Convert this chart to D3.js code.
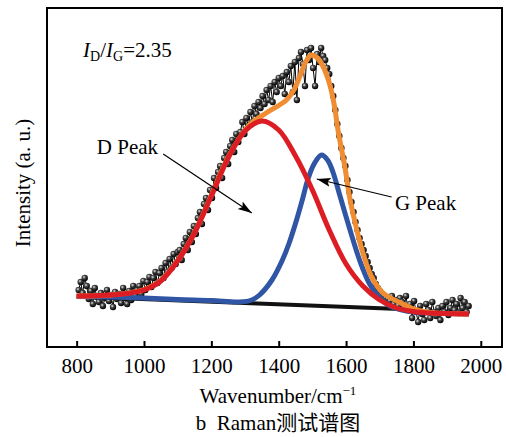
<!DOCTYPE html>
<html>
<head>
<meta charset="utf-8">
<script src="https://cdn.jsdelivr.net/npm/d3@7"></script>
<style>
  body { margin: 0; background: #fff; }
  svg text { font-family: "Liberation Serif", "Noto Sans CJK SC", serif; fill: #000; }
</style>
</head>
<body>
<div id="chart"></div>
<script>
const width = 506;
const height = 437;

// x ticks
const wavenumberTicks = [800, 1000, 1200, 1400, 1600, 1800, 2000];

// measured spectrum, one point every 6 cm-1 from 806
const rawStart = 806;
const rawStep = 6;
const rawIntensity = [
  58, 66, 55, 70, 62, 49, 57, 44, 60, 51,
  46, 55, 42, 50, 58, 47, 53, 41, 56, 49,
  54, 45, 60, 50, 44, 57, 48, 62, 52, 58,
  62, 54, 67, 58, 66, 71, 61, 70, 76, 65,
  75, 80, 70, 85, 76, 89, 80, 94, 84, 96,
  98, 88, 104, 110, 98, 116, 106, 122, 114, 130,
  136, 124, 144, 150, 138, 158, 150, 170, 160, 176,
  182, 170, 190, 196, 184, 202, 208, 196, 214, 206,
  216, 226, 214, 230, 222, 236, 226, 242, 234, 246,
  240, 252, 244, 258, 248, 262, 246, 266, 256, 270,
  262, 272, 254, 276, 266, 282, 256, 286, 248, 290,
  296, 284, 262, 298, 288, 300, 280, 262, 294, 286,
  300, 292, 288, 280, 274, 262, 252, 238, 224, 212,
  200, 190, 182, 168, 156, 146, 136, 126, 118, 110,
  104, 98, 92, 86, 80, 74, 70, 64, 60, 57,
  54, 52, 50, 49, 47, 52, 44, 48, 42, 50,
  46, 40, 52, 38, 44, 30, 47, 36, 26, 42,
  34, 28, 44, 38, 30, 46, 36, 32, 40, 28,
  42, 36, 46, 33, 40, 48, 38, 44, 35, 50,
  40, 46, 36, 42
];

// fitted curves [wavenumber, intensity]
const baseline = [[800, 51.5], [1760, 39]];

const dPeak = [
  [800, 52], [850, 52.3], [900, 53], [950, 54.5], [1000, 58], [1050, 67],
  [1100, 87], [1150, 115], [1200, 152], [1250, 190], [1300, 217], [1350, 227],
  [1400, 218], [1450, 192], [1500, 158], [1550, 118], [1600, 84], [1650, 62],
  [1700, 48], [1750, 40], [1800, 36.5], [1850, 35], [1900, 34.5], [1965, 34]
];

const gPeak = [
  [800, 51.5], [900, 51], [1000, 50], [1100, 48.5], [1200, 47.5], [1284, 46],
  [1320, 48], [1343, 53], [1380, 68], [1411, 88], [1430, 104], [1453, 128],
  [1470, 148], [1486, 168], [1505, 184], [1527, 193], [1545, 188], [1561, 176],
  [1582, 152], [1610, 120], [1640, 88], [1670, 64], [1700, 50], [1730, 42],
  [1760, 38.5], [1800, 36], [1850, 35], [1900, 34.5], [1965, 34]
];

const fitSum = [
  [800, 52], [900, 53], [1000, 58.5], [1050, 67.5], [1100, 87.5], [1150, 115.5],
  [1200, 153], [1250, 191], [1313, 223], [1363, 235], [1423, 248], [1445, 258],
  [1462, 271], [1480, 286], [1497, 293], [1515, 290], [1531, 282], [1552, 263],
  [1566, 241], [1576, 218], [1597, 180], [1611, 150], [1632, 118], [1650, 95],
  [1676, 71], [1710, 55], [1769, 44], [1810, 38], [1850, 35.5], [1900, 34.5], [1965, 34]
];

// annotation anchors in data units
const dArrow = [[1057, 194], [1320, 135]];
const gArrow = [[1735, 151], [1513, 169]];

const margin = { left: 47, right: 4, top: 8, bottom: 90 };
const fontSize = 21;

const x = d3.scaleLinear()
  .domain([712, 2063])
  .range([margin.left, width - margin.right]);

const y = d3.scaleLinear()
  .domain([1, 340])
  .range([height - margin.bottom, margin.top]);

const svg = d3.select("#chart")
  .append("svg")
  .attr("width", width)
  .attr("height", height);

const defs = svg.append("defs");

const grad = defs.append("radialGradient")
  .attr("id", "ball")
  .attr("cx", "38%").attr("cy", "35%").attr("r", "65%");
grad.append("stop").attr("offset", "0%").attr("stop-color", "#e8e8e8");
grad.append("stop").attr("offset", "40%").attr("stop-color", "#444");
grad.append("stop").attr("offset", "100%").attr("stop-color", "#000");

defs.append("marker")
  .attr("id", "arrow")
  .attr("viewBox", "0 0 14 10")
  .attr("refX", 14).attr("refY", 5)
  .attr("markerWidth", 14).attr("markerHeight", 10)
  .attr("markerUnits", "userSpaceOnUse")
  .attr("orient", "auto")
  .append("path")
  .attr("d", "M0,0.5 L14,5 L0,9.5 L3,5 Z")
  .attr("fill", "#000");

// measured points
const raw = rawIntensity.map((v, i) => [rawStart + i * rawStep, v]);

const line = d3.line()
  .x(d => x(d[0]))
  .y(d => y(d[1]));

const smooth = d3.line()
  .x(d => x(d[0]))
  .y(d => y(d[1]))
  .curve(d3.curveCatmullRom.alpha(0.5));

svg.append("path")
  .datum(raw)
  .attr("d", line)
  .attr("fill", "none")
  .attr("stroke", "#000")
  .attr("stroke-width", 1);

svg.append("g")
  .selectAll("circle")
  .data(raw)
  .join("circle")
  .attr("cx", d => x(d[0]))
  .attr("cy", d => y(d[1]))
  .attr("r", 3.2)
  .attr("fill", "url(#ball)");

// fits
svg.append("path")
  .datum(baseline)
  .attr("d", line)
  .attr("fill", "none")
  .attr("stroke", "#111")
  .attr("stroke-width", 4);

svg.append("path")
  .datum(gPeak)
  .attr("d", smooth)
  .attr("fill", "none")
  .attr("stroke", "#2f55a4")
  .attr("stroke-width", 5);

svg.append("path")
  .datum(fitSum)
  .attr("d", smooth)
  .attr("fill", "none")
  .attr("stroke", "#f08c32")
  .attr("stroke-width", 5);

svg.append("path")
  .datum(dPeak)
  .attr("d", smooth)
  .attr("fill", "none")
  .attr("stroke", "#dc1e24")
  .attr("stroke-width", 5);

// frame
svg.append("rect")
  .attr("x", margin.left)
  .attr("y", margin.top)
  .attr("width", width - margin.left - margin.right)
  .attr("height", height - margin.top - margin.bottom)
  .attr("fill", "none")
  .attr("stroke", "#000")
  .attr("stroke-width", 2);

// x axis, ticks pointing in
const xAxis = svg.append("g")
  .attr("transform", `translate(0,${height - margin.bottom})`)
  .call(d3.axisBottom(x)
    .tickValues(wavenumberTicks)
    .tickSizeInner(-6)
    .tickSizeOuter(0)
    .tickPadding(11)
    .tickFormat(d3.format("d")));
xAxis.select(".domain").remove();
xAxis.selectAll(".tick line").attr("stroke-width", 2);
xAxis.selectAll("text")
  .attr("font-size", fontSize)
  .attr("fill", "#000");

// axis titles
const xTitle = svg.append("text")
  .attr("x", 278)
  .attr("y", 402.5)
  .attr("text-anchor", "middle")
  .attr("font-size", fontSize);
xTitle.append("tspan").text("Wavenumber/cm");
xTitle.append("tspan").attr("dy", -8).attr("font-size", 13).text("\u22121");

svg.append("text")
  .attr("transform", "translate(29.5,183) rotate(-90)")
  .attr("text-anchor", "middle")
  .attr("font-size", fontSize)
  .text("Intensity (a. u.)");

svg.append("text")
  .attr("x", 278)
  .attr("y", 430)
  .attr("text-anchor", "middle")
  .attr("font-size", fontSize)
  .attr("xml:space", "preserve")
  .text("b  Raman\u6d4b\u8bd5\u8c31\u56fe");

// ratio label
const ratio = svg.append("text")
  .attr("x", x(819))
  .attr("y", y(291))
  .attr("font-size", fontSize);
ratio.append("tspan").attr("font-style", "italic").text("I");
ratio.append("tspan").attr("font-size", 14).attr("dy", 4).text("D");
ratio.append("tspan").attr("dy", -4).text("/");
ratio.append("tspan").attr("font-style", "italic").text("I");
ratio.append("tspan").attr("font-size", 14).attr("dy", 4).text("G");
ratio.append("tspan").attr("dy", -4).text("=2.35");

// peak labels and arrows
svg.append("text")
  .attr("x", x(860))
  .attr("y", y(194))
  .attr("font-size", fontSize)
  .text("D Peak");

svg.append("text")
  .attr("x", x(1745))
  .attr("y", y(138))
  .attr("font-size", fontSize)
  .text("G Peak");

[dArrow, gArrow].forEach(a => {
  svg.append("path")
    .datum(a)
    .attr("d", line)
    .attr("stroke", "#000")
    .attr("stroke-width", 1.2)
    .attr("fill", "none")
    .attr("marker-end", "url(#arrow)");
});
</script>
</body>
</html>
